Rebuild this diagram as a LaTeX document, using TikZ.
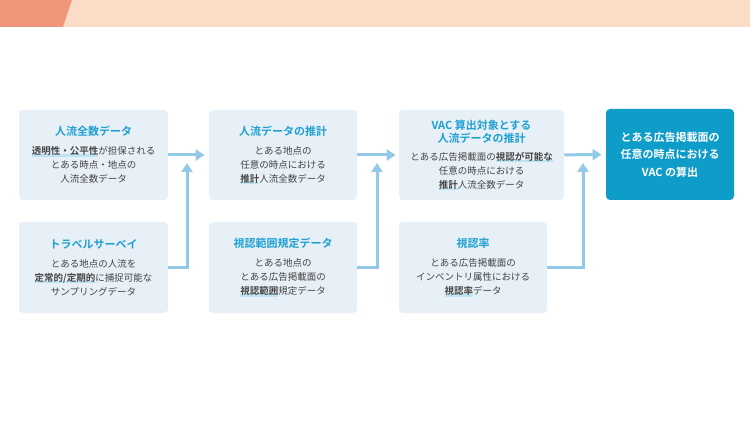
\documentclass[tikz,border=0pt]{standalone}
\usepackage{fontspec}
\setmainfont{Noto Sans CJK JP}[BoldFont={Noto Sans CJK JP Bold}]
\usetikzlibrary{arrows.meta,positioning}
\definecolor{bandlight}{HTML}{FBDCC7}
\definecolor{banddark}{HTML}{F0967A}
\definecolor{boxbg}{HTML}{E8F0F7}
\definecolor{titleblue}{HTML}{1FA0D2}
\definecolor{mainblue}{HTML}{0E9CC8}
\definecolor{flowblue}{HTML}{92C9E6}
\definecolor{hlblue}{HTML}{BDE2F3}
\definecolor{textgray}{HTML}{444444}
\tikzset{every picture/.style={line width=0.75pt}}
\tikzset{
  databox/.style={rectangle, rounded corners=4pt, fill=boxbg, draw=none,
    minimum width=149pt, minimum height=90pt, align=center, text=textgray,
    font=\fontsize{9.5}{14}\selectfont},
  resultbox/.style={databox, fill=mainblue, text=white, minimum width=128pt,
    font=\bfseries\fontsize{11}{17.5}\selectfont},
  flow/.style={flowblue, line width=3pt, -{Triangle[length=9pt,width=11pt]}},
  feed/.style={flowblue, line width=3pt}
}
\newcommand\boxtitle[1]{{\color{titleblue}\bfseries\fontsize{11}{13}\selectfont #1}}
\newcommand\hlword[1]{\setbox0=\hbox{\bfseries #1}\rlap{\color{hlblue}\rule[-2pt]{\wd0}{2.5pt}}\box0}

\begin{document}
\begin{tikzpicture}[x=1pt, y=-1pt]
    \useasboundingbox (0,0) rectangle (750,422);
    % 顶部色带
    \fill[bandlight] (0,0) rectangle (750,27);
    \fill[banddark] (0,0) -- (72,0) -- (63,27) -- (0,27) -- cycle;

    % 数据框
    \node[databox] (census) at (93.5,155) {\boxtitle{人流全数データ}\\[5pt]
        \hlword{透明性・公平性}が担保される\\とある時点・地点の\\人流全数データ};
    \node[databox, minimum height=91pt] (survey) at (93.5,267.5) {\boxtitle{トラベルサーベイ}\\[5pt]
        とある地点の人流を\\\hlword{定常的/定期的}に捕捉可能な\\サンプリングデータ};
    \node[databox, minimum width=148pt] (estimate) at (283,155) {\boxtitle{人流データの推計}\\[5pt]
        とある地点の\\任意の時点における\\\hlword{推計}人流全数データ};
    \node[databox, minimum width=148pt, minimum height=91pt] (range) at (283,267.5) {\boxtitle{視認範囲規定データ}\\[5pt]
        とある地点の\\とある広告掲載面の\\\hlword{視認範囲}規定データ};
    \node[databox, minimum width=165pt] (target) at (481.5,155) {\boxtitle{VAC 算出対象とする}\\[-1pt]\boxtitle{人流データの推計}\\[4pt]
        とある広告掲載面の\hlword{視認が可能な}\\任意の時点における\\\hlword{推計}人流全数データ};
    \node[databox, minimum width=148pt, minimum height=91pt] (rate) at (473,267.5) {\boxtitle{視認率}\\[5pt]
        とある広告掲載面の\\インベントリ属性における\\\hlword{視認率}データ};
    \node[resultbox, minimum height=91pt] (vac) at (670,154.5) {とある広告掲載面の\\任意の時点における\\VAC の算出};

    % 汇合点
    \coordinate (join1) at (187,163);
    \coordinate (join2) at (377,163);
    \coordinate (join3) at (583,163);

    % 箭头
    \draw[flow, shorten >=4pt] (census) -- (estimate);
    \draw[flow, shorten >=3pt] (estimate) -- (target);
    \draw[flow, shorten >=4pt] (target) -- (vac);
    \draw[flow] (survey.east) -| (join1);
    \draw[flow] (range.east) -| (join2);
    \draw[flow] (rate.east) -| (join3);
\end{tikzpicture}
\end{document}
